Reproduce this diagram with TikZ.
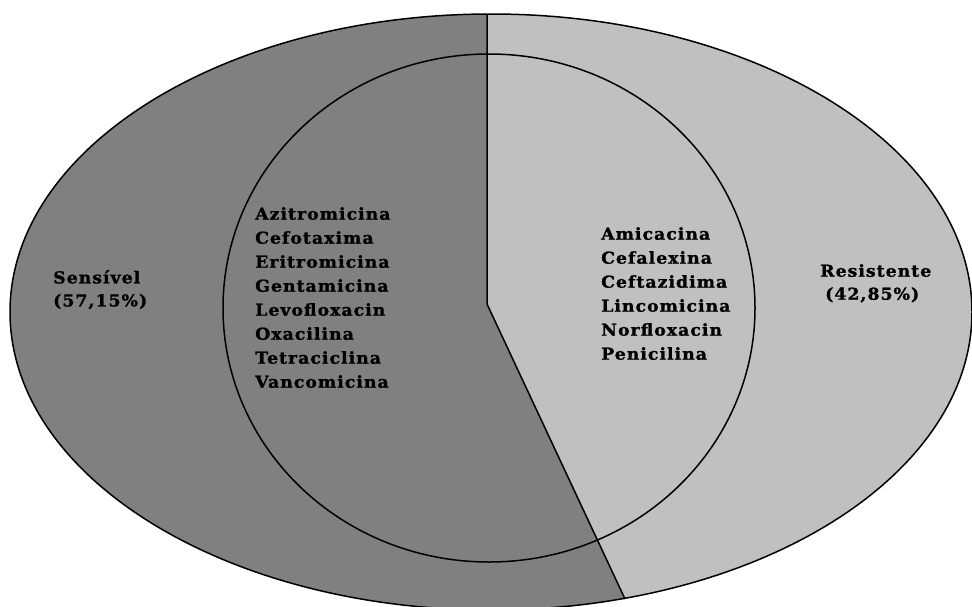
\documentclass[tikz,border=0pt]{standalone}
\usepackage{fontspec}
\setmainfont{DejaVu Serif}[LetterSpace=6, FakeStretch=1.05, BoldFeatures={FakeBold=1.2}]
\definecolor{darkfill}{RGB}{128,128,128}
\definecolor{lightfill}{RGB}{192,192,192}
\tikzset{
  edge/.style={draw=black, line width=1.5pt},
  lbl/.style={font=\bfseries\fontsize{16.5}{24}\selectfont, align=left, inner sep=0pt, anchor=north west},
  tag/.style={lbl, font=\bfseries\fontsize{16.5}{23}\selectfont},
}
\begin{document}
\begin{tikzpicture}[x=1pt,y=-1pt]
\useasboundingbox (0,0) rectangle (972,606);
\fill[white] (0,0) rectangle (972,606);
% outer ellipse
\fill[lightfill] (491,312) ellipse [x radius=481, y radius=298];
\begin{scope}
  \clip (487,-20) -- (487,304) -- (644.2,640) -- (-20,640) -- (-20,-20) -- cycle;
  \fill[darkfill] (491,312) ellipse [x radius=481, y radius=298];
\end{scope}
\draw[edge] (491,312) ellipse [x radius=481, y radius=298];
% inner ellipse
\draw[edge] (489,308) ellipse [x radius=266, y radius=254];
% divider
\coordinate (top) at (487,14);
\coordinate (mid) at (487,304);
\coordinate (bot) at (625,599);
\draw[edge] (top) -- (mid) -- (bot);
% texts
\node[lbl] (left) at (255,207) {Azitromicina\\Cefotaxima\\Eritromicina\\Gentamicina\\Levofloxacin\\Oxacilina\\Tetraciclina\\Vancomicina};
\node[lbl] (right) at (601,227) {Amicacina\\Cefalexina\\Ceftazidima\\Lincomicina\\Norfloxacin\\Penicilina};
\node[tag] (sens) at (53,270) {Sensível\\(57,15\%)};
\node[tag] (res) at (820,264) {Resistente\\\hspace*{5pt}(42,85\%)};
\end{tikzpicture}
\end{document}
